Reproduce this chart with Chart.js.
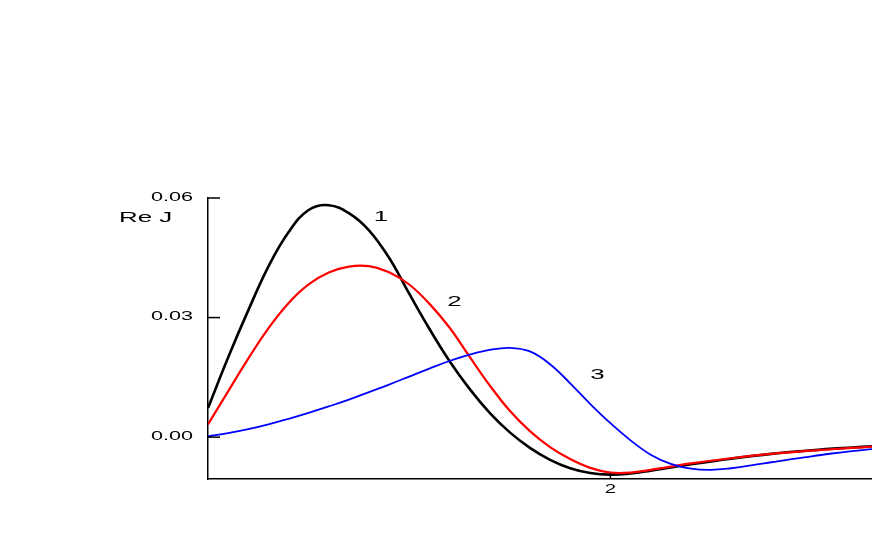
<!DOCTYPE html>
<html>
<head>
<meta charset="utf-8">
<script src="https://cdn.jsdelivr.net/npm/chart.js@4"></script>
<style>
  html, body { margin:0; padding:0; background:#fff; }
  #wrap { width:872px; height:545px; }
</style>
</head>
<body>
<div id="wrap"><canvas id="chart"></canvas></div>
<script>
// curve 1 (black)
const x1 = [0, 0.1, 0.2, 0.3, 0.4, 0.5, 0.6, 0.7, 0.8, 0.9, 1.0, 1.1, 1.2, 1.3, 1.4, 1.5, 1.6, 1.7, 1.8, 1.9, 2.0, 2.1, 2.2, 2.3, 2.4, 2.6, 2.8, 3.0, 3.2, 3.3];
const y1 = [0.0073, 0.0200, 0.0318, 0.0428, 0.0514, 0.0570, 0.0582, 0.0562, 0.0519, 0.0450, 0.0360, 0.0272, 0.0191, 0.0121, 0.0061, 0.0012, -0.0027, -0.0057, -0.0078, -0.0090, -0.0094, -0.0091, -0.0084, -0.0076, -0.0068, -0.0054, -0.0042, -0.0033, -0.0026, -0.0023];
// curve 2 (red)
const x2 = [0, 0.1, 0.2, 0.3, 0.4, 0.5, 0.6, 0.7, 0.8, 0.9, 1.0, 1.1, 1.2, 1.3, 1.4, 1.5, 1.6, 1.7, 1.8, 1.9, 2.0, 2.1, 2.2, 2.3, 2.4, 2.6, 2.8, 3.0, 3.2, 3.3];
const y2 = [0.0032, 0.0115, 0.0197, 0.0273, 0.0336, 0.0383, 0.0413, 0.0428, 0.0429, 0.0414, 0.0383, 0.0335, 0.0275, 0.0202, 0.0130, 0.0066, 0.0015, -0.0025, -0.0055, -0.0077, -0.0089, -0.0089, -0.0082, -0.0074, -0.0066, -0.0053, -0.0042, -0.0034, -0.0027, -0.0024];
// curve 3 (blue)
const x3 = [0, 0.1, 0.2, 0.3, 0.4, 0.5, 0.6, 0.7, 0.8, 0.9, 1.0, 1.1, 1.2, 1.3, 1.4, 1.5, 1.6, 1.7, 1.8, 1.9, 2.0, 2.1, 2.2, 2.3, 2.4, 2.5, 2.6, 2.7, 2.8, 2.9, 3.0, 3.1, 3.2, 3.3];
const y3 = [0.0002, 0.0010, 0.0020, 0.0032, 0.0046, 0.0061, 0.0077, 0.0094, 0.0113, 0.0132, 0.0152, 0.0172, 0.0191, 0.0207, 0.0219, 0.0224, 0.0215, 0.0183, 0.0135, 0.0083, 0.0035, -0.0008, -0.0044, -0.0067, -0.0079, -0.0082, -0.0078, -0.0071, -0.0063, -0.0055, -0.0048, -0.0041, -0.0035, -0.0030];

const yTicks = [0, 0.03, 0.06];
const yTickLabels = ["0.00", "0.03", "0.06"];
const xTicks = [2];
const xTickLabels = ["2"];
const curveNames = ["1", "2", "3"];
const yTitle = "Re J";

const toPts = (xs, ys) => xs.map((x, i) => ({ x, y: ys[i] }));

function wideText(ctx, str, x, y, size, sx, align) {
  ctx.save();
  ctx.font = size + 'px "Liberation Sans", Arial, sans-serif';
  ctx.fillStyle = "#000";
  ctx.textBaseline = "middle";
  ctx.textAlign = align;
  ctx.translate(x, y);
  ctx.scale(sx, 1);
  ctx.fillText(str, 0, 0);
  ctx.restore();
}

// inward ticks + stretched labels
const decor = {
  id: "decor",
  afterDraw(c) {
    const ctx = c.ctx, xs = c.scales.x, ys = c.scales.y;
    const left = c.chartArea.left, bottom = c.chartArea.bottom;
    ctx.save();
    ctx.strokeStyle = "#000";
    ctx.lineWidth = 1.5;
    yTicks.forEach((v, i) => {
      const py = ys.getPixelForValue(v);
      ctx.beginPath();
      ctx.moveTo(left, py);
      ctx.lineTo(left + 12, py);
      ctx.stroke();
      wideText(ctx, yTickLabels[i], left - 15, py - 0.5, 12, 1.8, "right");
    });
    xTicks.forEach((v, i) => {
      const px = xs.getPixelForValue(v);
      ctx.beginPath();
      ctx.moveTo(px, bottom);
      ctx.lineTo(px, bottom - 6);
      ctx.stroke();
      wideText(ctx, xTickLabels[i], px, bottom + 11, 12, 1.7, "center");
    });
    ctx.restore();
    wideText(ctx, yTitle, 119, 218, 14, 1.85, "left");
    // curve numbers placed near their curves
    wideText(ctx, curveNames[0], xs.getPixelForValue(0.86), ys.getPixelForValue(0.0552), 14, 1.85, "center");
    wideText(ctx, curveNames[1], xs.getPixelForValue(1.225), ys.getPixelForValue(0.0339), 14, 1.85, "center");
    wideText(ctx, curveNames[2], xs.getPixelForValue(1.935), ys.getPixelForValue(0.0156), 14, 1.85, "center");
  }
};

new Chart(document.getElementById("chart"), {
  type: "scatter",
  data: {
    datasets: [
      { data: toPts(x3, y3), borderColor: "#0000ff", borderWidth: 1.8 },
      { data: toPts(x2, y2), borderColor: "#ff0000", borderWidth: 2.2 },
      { data: toPts(x1, y1), borderColor: "#000000", borderWidth: 2.6 }
    ].map(d => Object.assign(d, { showLine: true, pointRadius: 0, tension: 0.4, fill: false }))
  },
  options: {
    responsive: true,
    maintainAspectRatio: false,
    animation: false,
    layout: { padding: { top: 198, left: 0, right: 0, bottom: 0 } },
    plugins: { legend: { display: false }, tooltip: { enabled: false } },
    scales: {
      x: {
        type: "linear", min: 0, max: 3.3,
        grid: { display: false },
        border: { display: true, color: "#000", width: 1.5 },
        ticks: { display: false },
        afterFit: s => { s.height = 66; }
      },
      y: {
        type: "linear", min: -0.0105, max: 0.06,
        grid: { display: false },
        border: { display: true, color: "#000", width: 1.5 },
        ticks: { display: false },
        afterFit: s => { s.width = 208; }
      }
    }
  },
  plugins: [decor]
});
</script>
</body>
</html>
